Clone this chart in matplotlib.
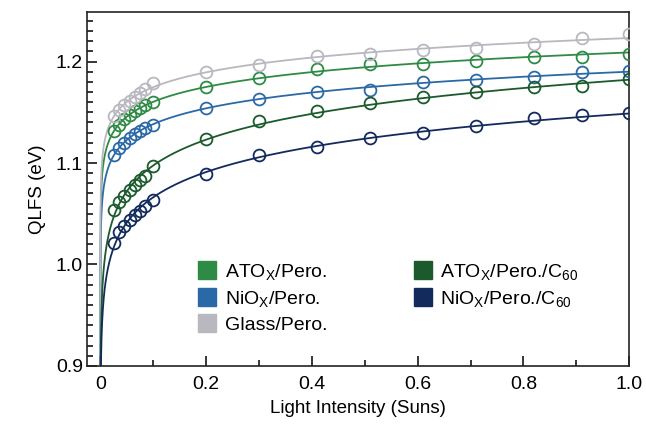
import matplotlib
matplotlib.use('Agg')
import matplotlib.pyplot as plt
import numpy as np
from matplotlib.lines import Line2D
from matplotlib.ticker import MultipleLocator, FuncFormatter

plt.rcParams['font.family'] = ['Liberation Sans', 'DejaVu Sans']
plt.rcParams['mathtext.fontset'] = 'custom'
plt.rcParams['mathtext.rm'] = 'Liberation Sans'
plt.rcParams['mathtext.it'] = 'Liberation Sans'

# light intensity (suns)
x = [0.025, 0.035, 0.045, 0.055, 0.065, 0.075, 0.085, 0.1,
     0.2, 0.3, 0.41, 0.51, 0.61, 0.71, 0.82, 0.91, 1.0]

# QLFS (eV)
ato = [1.132, 1.138, 1.143, 1.147, 1.151, 1.154, 1.157, 1.160,
       1.175, 1.184, 1.193, 1.198, 1.198, 1.201, 1.205, 1.205, 1.208]
nio = [1.108, 1.115, 1.120, 1.125, 1.129, 1.132, 1.135, 1.138,
       1.154, 1.163, 1.170, 1.172, 1.180, 1.182, 1.185, 1.190, 1.191]
glass = [1.146, 1.152, 1.157, 1.161, 1.165, 1.169, 1.173, 1.179,
         1.190, 1.197, 1.206, 1.208, 1.211, 1.213, 1.217, 1.223, 1.227]
ato_c60 = [1.054, 1.062, 1.068, 1.073, 1.078, 1.083, 1.087, 1.097,
           1.124, 1.141, 1.151, 1.159, 1.165, 1.170, 1.175, 1.176, 1.183]
nio_c60 = [1.021, 1.032, 1.038, 1.044, 1.049, 1.053, 1.058, 1.064,
           1.089, 1.108, 1.116, 1.125, 1.130, 1.137, 1.144, 1.147, 1.149]

labels = [r'ATO$_\mathrm{X}$/Pero.', r'NiO$_\mathrm{X}$/Pero.', 'Glass/Pero.',
          r'ATO$_\mathrm{X}$/Pero./C$_{60}$', r'NiO$_\mathrm{X}$/Pero./C$_{60}$']
colors = ['#2e8b45', '#2b69a6', '#b9b7bf', '#1b5a2c', '#132b5c']
series = [ato, nio, glass, ato_c60, nio_c60]

fig = plt.figure(figsize=(6.46, 4.26), dpi=100)
ax = fig.add_axes([0.135, 0.141, 0.839, 0.831])

xs = np.array(x)
xf = np.logspace(-7, 0, 600)
for ys, c in zip(series, colors):
    # logarithmic fit like the reference lines
    b, a = np.polyfit(np.log(xs), np.array(ys), 1)
    ax.plot(xf, a + b * np.log(xf), color=c, lw=1.3, zorder=2)
    ax.plot(xs, ys, 'o', mfc='none', mec=c, ms=8.5, mew=1.3, zorder=3)

ax.set_xlim(-0.025, 1.0)
ax.set_ylim(0.9, 1.249)
ax.xaxis.set_major_locator(MultipleLocator(0.2))
ax.xaxis.set_minor_locator(MultipleLocator(0.1))
ax.yaxis.set_major_locator(MultipleLocator(0.1))
ax.yaxis.set_minor_locator(MultipleLocator(0.01))
ax.xaxis.set_major_formatter(FuncFormatter(lambda v, p: '0' if abs(v) < 1e-9 else f'{v:.1f}'))
ax.yaxis.set_major_formatter(FuncFormatter(lambda v, p: f'{v:.1f}'))
ax.tick_params(which='both', direction='in', labelsize=14, width=1.1)
ax.tick_params(which='major', length=7)
ax.tick_params(axis='x', which='major', pad=7)
ax.tick_params(axis='y', which='major', pad=3)
ax.tick_params(which='minor', length=4)
for s in ax.spines.values():
    s.set_linewidth(1.2)
    s.set_color('#222222')

ax.set_xlabel('Light Intensity (Suns)', fontsize=13.5, labelpad=5)
ax.set_ylabel('QLFS (eV)', fontsize=13.5, labelpad=7)

handles = [Line2D([], [], ls='none', marker='s', ms=13, mfc=c, mec=c) for c in colors]
leg = ax.legend(handles, labels, ncol=2, loc='lower left', bbox_to_anchor=(0.168, 0.04),
                frameon=False, fontsize=14, handletextpad=0.3, columnspacing=4.3,
                labelspacing=0.38, handlelength=1.2)

fig.savefig('out.png', dpi=100)
